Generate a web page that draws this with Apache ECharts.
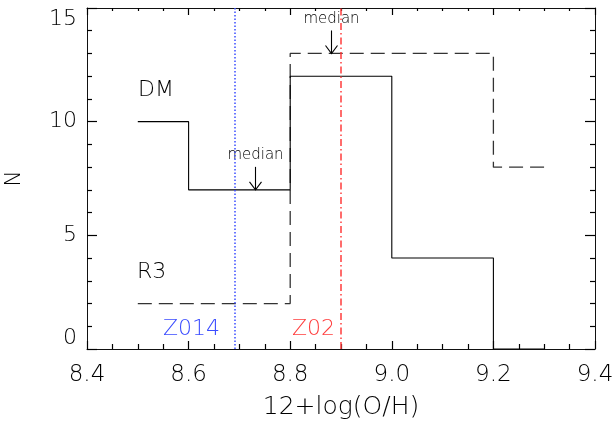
<!DOCTYPE html>
<html>
<head>
<meta charset="utf-8">
<script src="https://cdn.jsdelivr.net/npm/echarts@6/dist/echarts.min.js"></script>
<style>
  html, body { margin: 0; padding: 0; background: #fff; }
  #chart { width: 615px; height: 427px; }
</style>
</head>
<body>
<div id="chart"></div>
<script>
// Histogram bin edges in 12+log(O/H) and the counts per bin
const binEdges = [8.5, 8.6, 8.7, 8.8, 8.9, 9.0, 9.1, 9.2, 9.3];
const dmCounts = [10, 7, 7, 12, 12, 4, 4, 0];
const r3Counts = [2, 2, 2, 13, 13, 13, 13, 8];

// Median positions (x) and the histogram height the arrow points at
const medianX = [8.73, 8.88];
const medianTip = [7, 13];

// Reference metallicity markers
const z014 = 8.69;
const z02 = 8.9;

const xTicks = [8.4, 8.6, 8.8, 9.0, 9.2, 9.4];
const yTicks = [0, 5, 10, 15];

const FONT = "'DejaVu Sans', sans-serif";
const INK = '#000';
const AXIS = '#111';
const BLUE = '#3a4cff';
const RED = '#ff3d3d';

// Turn edges + counts into a stepped outline
function stepLine(edges, counts) {
  const pts = [];
  for (let i = 0; i < counts.length; i++) {
    pts.push([edges[i], counts[i]]);
    pts.push([edges[i + 1], counts[i]]);
  }
  return pts;
}

const chart = echarts.init(document.getElementById('chart'), null, { renderer: 'canvas' });

const axisLineStyle = { color: AXIS, width: 1 };
const tickStyle = { color: '#000', width: 1.2 };

chart.setOption({
  animation: false,
  backgroundColor: '#fff',
  grid: { left: 87, right: 20, top: 8, bottom: 78, containLabel: false, outerBoundsMode: 'none' },
  xAxis: [
    {
      type: 'value', position: 'bottom',
      min: xTicks[0], max: xTicks[xTicks.length - 1], interval: 0.2,
      name: '12+log(O/H)', nameLocation: 'middle', nameGap: 46,
      nameTextStyle: { fontFamily: FONT, fontSize: 25, color: INK, fontWeight: 200 },
      axisLine: { show: true, onZero: false, lineStyle: axisLineStyle },
      axisTick: { show: true, inside: true, length: 8, lineStyle: tickStyle },
      minorTick: { show: true, splitNumber: 4, length: 5, lineStyle: tickStyle },
      axisLabel: { margin: 15, fontFamily: FONT, fontSize: 23, color: INK, fontWeight: 200,
        formatter: v => v.toFixed(1) },
      splitLine: { show: false }, minorSplitLine: { show: false }
    },
    {
      type: 'value', position: 'top',
      min: xTicks[0], max: xTicks[xTicks.length - 1], interval: 0.2,
      axisLine: { show: true, onZero: false, lineStyle: axisLineStyle },
      axisTick: { show: true, inside: true, length: 7, lineStyle: tickStyle },
      minorTick: { show: true, splitNumber: 4, length: 3, lineStyle: tickStyle },
      axisLabel: { show: false },
      splitLine: { show: false }, minorSplitLine: { show: false }
    }
  ],
  yAxis: [
    {
      type: 'value', position: 'left',
      min: yTicks[0], max: yTicks[yTicks.length - 1], interval: 5,
      name: 'N', nameLocation: 'middle', nameGap: 62, nameRotate: 90,
      nameTextStyle: { fontFamily: FONT, fontSize: 22, color: INK, fontWeight: 200 },
      axisLine: { show: true, onZero: false, lineStyle: axisLineStyle },
      axisTick: { show: true, inside: true, length: 10, lineStyle: tickStyle },
      minorTick: { show: true, splitNumber: 5, length: 5, lineStyle: tickStyle },
      axisLabel: { margin: 10, fontFamily: FONT, fontSize: 22, color: INK, fontWeight: 200,
        verticalAlignMaxLabel: 'top', verticalAlignMinLabel: 'bottom' },
      splitLine: { show: false }, minorSplitLine: { show: false }
    },
    {
      type: 'value', position: 'right',
      min: yTicks[0], max: yTicks[yTicks.length - 1], interval: 5,
      axisLine: { show: true, onZero: false, lineStyle: axisLineStyle },
      axisTick: { show: true, inside: true, length: 10, lineStyle: tickStyle },
      minorTick: { show: true, splitNumber: 5, length: 5, lineStyle: tickStyle },
      axisLabel: { show: false },
      splitLine: { show: false }, minorSplitLine: { show: false }
    }
  ],
  series: [
    {
      name: 'DM', type: 'line', data: stepLine(binEdges, dmCounts),
      showSymbol: false, symbol: 'none', silent: true, z: 3,
      lineStyle: { color: '#000', width: 1.1, type: 'solid' },
      markLine: {
        silent: true, symbol: ['none', 'none'], label: { show: false },
        data: [
          { xAxis: z014, lineStyle: { color: BLUE, width: 1.5, type: [1.5, 2] } },
          { xAxis: z02, lineStyle: { color: RED, width: 1.5, type: [7, 3, 1.5, 3] } }
        ]
      }
    },
    {
      name: 'R3', type: 'line', data: stepLine(binEdges, r3Counts),
      showSymbol: false, symbol: 'none', silent: true, z: 2,
      lineStyle: { color: '#333', width: 1.3, type: [14, 7] }
    },
    {
      name: 'median', type: 'custom', silent: true, z: 4,
      data: medianX.map((x, i) => [x, medianTip[i]]),
      renderItem: function (params, api) {
        const p = api.coord([api.value(0), api.value(1)]);
        const x = Math.round(p[0]) + 0.5;
        const y = p[1];
        return {
          type: 'group',
          children: [
            { type: 'line', shape: { x1: x, y1: y - 23, x2: x, y2: y },
              style: { stroke: '#000', lineWidth: 1.1 } },
            { type: 'polyline', shape: { points: [[x - 6, y - 8], [x, y], [x + 6, y - 8]] },
              style: { stroke: '#000', lineWidth: 1.1, fill: null } },
            { type: 'text', style: { text: 'median', x: x, y: y - 27, align: 'center',
              verticalAlign: 'bottom', fontFamily: FONT, fontSize: 15, fill: INK, fontWeight: 200 } }
          ]
        };
      }
    }
  ],
  graphic: [
    { type: 'text', left: 138, top: 79, style: { text: 'DM', fontFamily: FONT, fontSize: 22, fill: INK, fontWeight: 200 } },
    { type: 'text', left: 137, top: 261, style: { text: 'R3', fontFamily: FONT, fontSize: 22, fill: INK, fontWeight: 200 } },
    { type: 'text', left: 163, top: 318, style: { text: 'Z014', fontFamily: FONT, fontSize: 22, fill: BLUE, fontWeight: 200 } },
    { type: 'text', left: 292, top: 318, style: { text: 'Z02', fontFamily: FONT, fontSize: 22, fill: RED, fontWeight: 200 } }
  ]
});
</script>
</body>
</html>
